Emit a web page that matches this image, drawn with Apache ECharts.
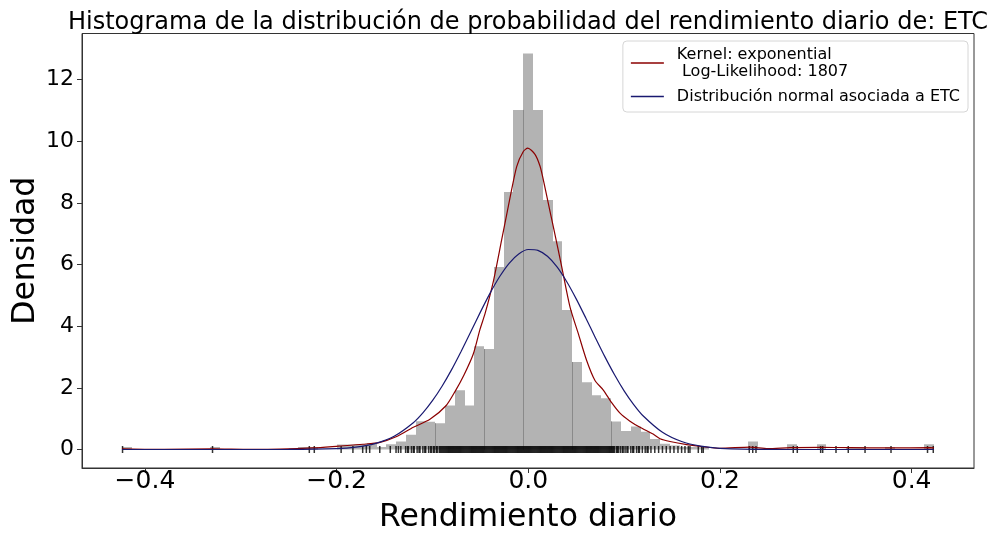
<!DOCTYPE html>
<html><head><meta charset="utf-8">
<script src="https://cdn.jsdelivr.net/npm/echarts@6/dist/echarts.min.js"></script>
<style>html,body{margin:0;padding:0;background:#fff}#c{width:993px;height:534px}</style>
</head><body><div id="c"></div>
<script>
// ---- data ----
const histStart = -0.4237;
const binWidth = 0.010206;
const histDensity = [
  0.085, 0, 0, 0, 0, 0, 0, 0, 0, 0.085,
  0, 0, 0, 0, 0, 0, 0, 0, 0.085, 0.085,
  0, 0, 0.16, 0.16, 0.17, 0.20, 0.085, 0.17, 0.26, 0.48,
  0.92, 0.90, 0.85, 1.43, 1.92, 1.43, 3.35, 3.26, 5.92, 8.36,
  11.02, 12.85, 11.02, 8.10, 6.76, 4.53, 2.84, 2.18, 1.76, 1.66,
  0.91, 0.60, 0.75, 0.58, 0.34, 0.19, 0.13, 0.085, 0.085, 0.085,
  0, 0, 0, 0, 0.26, 0, 0, 0, 0.17, 0,
  0, 0.17, 0, 0, 0.085, 0.085, 0, 0, 0.085, 0,
  0, 0, 0.17
];
const kdeX = [-0.424, -0.38, -0.330, -0.29, -0.2593, -0.2246, -0.198, -0.1725, -0.1548, -0.1373,
  -0.12, -0.1026, -0.0859, -0.0765, -0.0671, -0.0574, -0.0504, -0.0452, -0.0365, -0.0278,
  -0.0209, -0.0121, -0.0052, -0.0005, 0.007, 0.0122, 0.0157, 0.0209, 0.0261, 0.0349,
  0.0435, 0.0522, 0.0609, 0.0696, 0.0783, 0.087, 0.0957, 0.1061, 0.1166, 0.1302,
  0.1375, 0.1479, 0.1653, 0.1823, 0.2, 0.2313, 0.25, 0.273, 0.3043, 0.3356,
  0.3774, 0.4191, 0.4234];
const kdeY = [0.02, 0.003, 0.02, 0.003, 0.01, 0.05, 0.11, 0.17, 0.23, 0.42,
  0.72, 0.98, 1.42, 1.88, 2.42, 3.1, 3.9, 4.4, 5.45, 6.8,
  7.88, 9.18, 9.67, 9.78, 9.58, 9.2, 8.75, 7.99, 7.23, 5.93,
  4.63, 3.76, 2.89, 2.24, 1.93, 1.52, 1.18, 0.92, 0.72, 0.5,
  0.35, 0.26, 0.16, 0.09, 0.04, 0.08, 0.03, 0.06, 0.07, 0.06,
  0.05, 0.06, 0.05];
const normX = [-0.424, -0.3, -0.25, -0.2, -0.18, -0.16, -0.14, -0.12, -0.11, -0.10,
  -0.09, -0.08, -0.07, -0.06, -0.05, -0.04, -0.03, -0.02, -0.01, 0,
  0.01, 0.02, 0.03, 0.04, 0.05, 0.06, 0.07, 0.08, 0.09, 0.10,
  0.11, 0.12, 0.14, 0.16, 0.18, 0.2, 0.25, 0.3, 0.4234];
const normY = [0, 0, 0.0014, 0.028, 0.077, 0.192, 0.431, 0.871, 1.190, 1.585,
  2.054, 2.593, 3.190, 3.821, 4.458, 5.066, 5.606, 6.044, 6.346, 6.490,
  6.464, 6.271, 5.926, 5.453, 4.889, 4.268, 3.630, 3.006, 2.426, 1.905,
  1.458, 1.087, 0.558, 0.258, 0.107, 0.040, 0.002, 0, 0];
const rugX = [-0.4234, -0.3295, -0.2285, -0.2233, -0.1953, -0.1830, -0.1728, -0.1690, -0.1655, -0.1550,
  -0.1440, -0.1380, -0.1355, -0.1330,
  -0.128, -0.126, -0.125, -0.122, -0.120, -0.119, -0.116, -0.114, -0.113, -0.110, -0.108, -0.107, -0.104, -0.102, -0.101,
  -0.099, -0.098, -0.096, -0.095, -0.093, -0.092, -0.091, -0.090, -0.089, -0.088, -0.087, -0.086, -0.085, -0.084, -0.083, -0.082, -0.081, -0.080, -0.079, -0.078,
  -0.077, -0.076, -0.075, -0.074, -0.073, -0.072, -0.071, -0.070, -0.069, -0.068, -0.067, -0.066, -0.065, -0.064, -0.063, -0.062, -0.061, -0.060, -0.059, -0.058,
  -0.057, -0.056, -0.055, -0.054, -0.053, -0.052, -0.051, -0.050, -0.049, -0.048, -0.047, -0.046, -0.045, -0.044, -0.043, -0.042, -0.041, -0.040, -0.039, -0.038,
  -0.037, -0.036, -0.035, -0.034, -0.033, -0.032, -0.031, -0.030, -0.029, -0.028, -0.027, -0.026, -0.025, -0.024, -0.023, -0.022, -0.021, -0.020, -0.019, -0.018,
  -0.017, -0.016, -0.015, -0.014, -0.013, -0.012, -0.011, -0.010, -0.009, -0.008, -0.007, -0.006, -0.005, -0.004, -0.003, -0.002, -0.001, 0.000, 0.001, 0.002,
  0.003, 0.004, 0.005, 0.006, 0.007, 0.008, 0.009, 0.010, 0.011, 0.012, 0.013, 0.014, 0.015, 0.016, 0.017, 0.018, 0.019, 0.020, 0.021, 0.022,
  0.023, 0.024, 0.025, 0.026, 0.027, 0.028, 0.029, 0.030, 0.031, 0.032, 0.033, 0.034, 0.035, 0.036, 0.037, 0.038, 0.039, 0.040, 0.041, 0.042,
  0.043, 0.044, 0.045, 0.046, 0.047, 0.048, 0.049, 0.050, 0.051, 0.052, 0.053, 0.054, 0.055, 0.056, 0.057, 0.058, 0.059, 0.060, 0.061, 0.062,
  0.063, 0.064, 0.065, 0.066, 0.067, 0.068, 0.069, 0.070, 0.071, 0.072, 0.073, 0.074, 0.075, 0.076, 0.077, 0.078, 0.079, 0.080, 0.081, 0.082,
  0.083, 0.084, 0.085, 0.086, 0.087, 0.088, 0.089, 0.090, 0.092, 0.093, 0.094, 0.096, 0.098, 0.099, 0.101, 0.103, 0.104, 0.107, 0.109,
  0.110, 0.113, 0.115, 0.116, 0.119, 0.122, 0.124, 0.125, 0.128, 0.132, 0.136,
  0.140, 0.144, 0.148, 0.152,
  0.1562, 0.1600, 0.1635, 0.1670, 0.1687, 0.1774, 0.1810, 0.1826, 0.2306, 0.2342,
  0.2376, 0.2765, 0.2807, 0.3051, 0.3072, 0.3211, 0.3339, 0.3514, 0.3785, 0.4166,
  0.4226];
const xTicks = [-0.4, -0.2, 0, 0.2, 0.4];
const yTicks = [0, 2, 4, 6, 8, 10, 12];
const titleText = 'Histograma de la distribución de probabilidad del rendimiento diario de: ETC';
const kdeName = 'Kernel: exponential\n Log-Likelihood: 1807';
const normName = 'Distribución normal asociada a ETC';
const edgeBins = [32, 37, 41, 46, 50];

// ---- build ----
const histData = histDensity.map((d, i) => [histStart + i * binWidth, histStart + (i + 1) * binWidth, d, i]);
const zip = (xs, ys) => xs.map((x, i) => [x, ys[i]]);
const fmt = v => (v < 0 ? '\u2212' : '') + Math.abs(v).toFixed(1);
const FONT = 'DejaVu Sans';
const AX = '#333';

const chart = echarts.init(document.getElementById('c'), null, {renderer: 'canvas'});
chart.setOption({
  animation: false,
  textStyle: {fontFamily: FONT, color: '#000'},
  title: {text: titleText, left: 523, textAlign: 'center', top: 6,
    textStyle: {fontFamily: FONT, fontSize: 24, fontWeight: 'normal', color: '#000'}},
  grid: {left: 82, right: 19, top: 33.5, bottom: 66, containLabel: false, outerBoundsMode: 'none',
    show: true, borderColor: AX, borderWidth: 1, backgroundColor: '#fff'},
  legend: {
    orient: 'vertical', right: 25, top: 41,
    data: [kdeName, normName],
    icon: 'rect', itemWidth: 33, itemHeight: 1.3, itemGap: 8,
    padding: [5, 8, 7, 8],
    backgroundColor: '#fff', borderColor: '#d6d6d6', borderWidth: 1, borderRadius: 4,
    textStyle: {fontFamily: FONT, fontSize: 16, color: '#000', lineHeight: 17, padding: [0, 0, 0, 8]}
  },
  xAxis: {
    type: 'value', min: -0.4657, max: 0.4651,
    name: 'Rendimiento diario', nameLocation: 'middle', nameGap: 34, nameMoveOverlap: false,
    nameTextStyle: {fontFamily: FONT, fontSize: 31.5, color: '#000'},
    axisLine: {show: true, onZero: false, lineStyle: {color: AX}},
    axisTick: {show: true, inside: false, length: 5, customValues: xTicks, lineStyle: {color: AX}},
    axisLabel: {customValues: xTicks, formatter: fmt, fontFamily: FONT, fontSize: 25, color: '#000', margin: 1},
    splitLine: {show: false}
  },
  yAxis: {
    type: 'value', min: -0.6, max: 13.5,
    name: 'Densidad', nameLocation: 'middle', nameGap: 40, nameMoveOverlap: false,
    nameTextStyle: {fontFamily: FONT, fontSize: 31.5, color: '#000'},
    axisLine: {show: true, onZero: false, lineStyle: {color: AX}},
    axisTick: {show: true, inside: false, length: 5, customValues: yTicks, lineStyle: {color: AX}},
    axisLabel: {customValues: yTicks, formatter: v => String(v), fontFamily: FONT, fontSize: 22, color: '#000', margin: 8},
    splitLine: {show: false}
  },
  series: [
    {
      type: 'custom', name: 'hist', clip: true, z: 1,
      encode: {x: [0, 1], y: 2},
      data: histData,
      renderItem: function (params, api) {
        const x0 = api.value(0), x1 = api.value(1), h = api.value(2), idx = api.value(3);
        const p0 = api.coord([x0, 0]);
        const p1 = api.coord([x1, h]);
        const children = [];
        const L = Math.round(p0[0]), R = Math.round(p1[0]);
        if (h > 0) {
          children.push({type: 'rect', shape: {x: L, y: p1[1], width: R - L, height: p0[1] - p1[1]},
            style: {fill: '#b3b3b3'}});
        }
        if (edgeBins.indexOf(idx) >= 0) {
          const hh = Math.min(h, histDensity[idx - 1]);
          const q = api.coord([x0, hh]);
          children.push({type: 'line', shape: {x1: L + 0.5, y1: p0[1], x2: L + 0.5, y2: q[1]},
            style: {stroke: '#8a8a8a', lineWidth: 1}});
        }
        return {type: 'group', children: children};
      }
    },
    {
      type: 'scatter', name: 'rug', z: 3,
      data: rugX.map(v => [v, 0]),
      symbol: 'rect', symbolSize: [1.5, 7],
      itemStyle: {color: '#000'}, silent: true
    },
    {
      type: 'line', name: kdeName, z: 4, data: zip(kdeX, kdeY),
      symbol: 'none', smooth: 0.25, color: '#8b0000',
      lineStyle: {color: '#8b0000', width: 1.2}
    },
    {
      type: 'line', name: normName, z: 5, data: zip(normX, normY),
      symbol: 'none', smooth: 0.25, color: '#191970',
      lineStyle: {color: '#191970', width: 1.2}
    }
  ]
});
</script>
</body></html>
